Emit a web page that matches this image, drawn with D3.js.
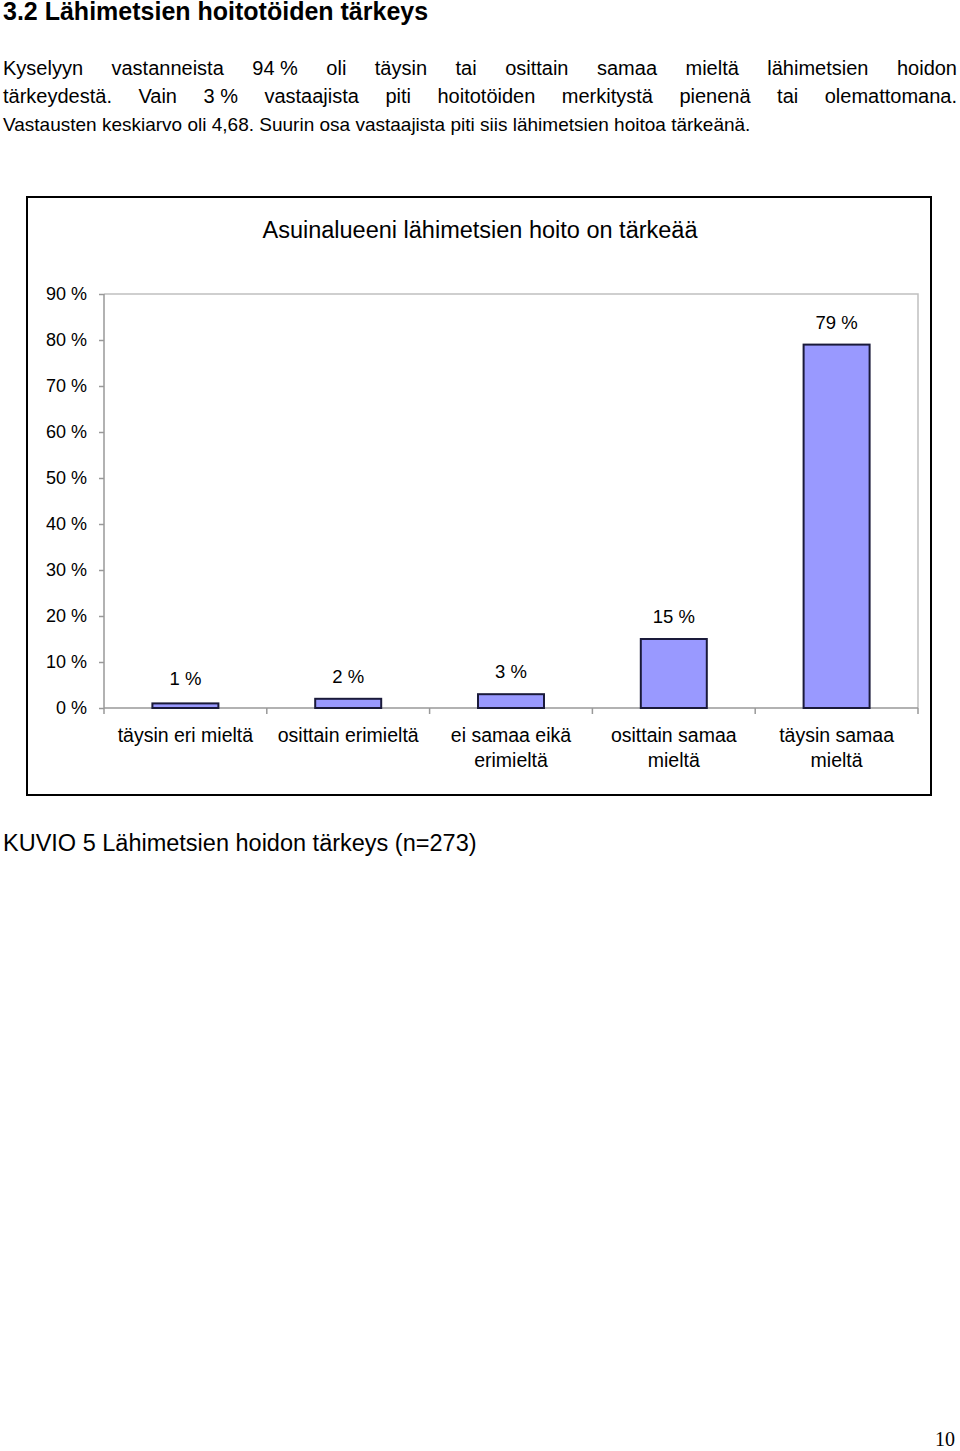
<!DOCTYPE html>
<html><head><meta charset="utf-8">
<script src="https://cdn.jsdelivr.net/npm/d3@7"></script>
<style>body{margin:0;background:#fff}</style>
</head><body>
<svg id="c" width="960" height="1451"></svg>
<script>
const categories = [["täysin eri mieltä"],["osittain erimieltä"],["ei samaa eikä","erimieltä"],["osittain samaa","mieltä"],["täysin samaa","mieltä"]];
const values = [1,2,3,15,79];
const valueLabels = ["1 %","2 %","3 %","15 %","79 %"];
const yTicks = [0,10,20,30,40,50,60,70,80,90];
const heading = "3.2 Lähimetsien hoitotöiden tärkeys";
const paragraph = [
 ["Kyselyyn","vastanneista","94 %","oli","täysin","tai","osittain","samaa","mieltä","lähimetsien","hoidon"],
 ["tärkeydestä.","Vain","3 %","vastaajista","piti","hoitotöiden","merkitystä","pienenä","tai","olemattomana."],
 ["Vastausten keskiarvo oli 4,68. Suurin osa vastaajista piti siis lähimetsien hoitoa tärkeänä."]];
const chartTitle = "Asuinalueeni lähimetsien hoito on tärkeää";
const caption = "KUVIO 5 Lähimetsien hoidon tärkeys (n=273)";

const svg = d3.select("#c");
const F = "Liberation Sans, Arial, sans-serif";
svg.append("text").attr("x",3).attr("y",20).attr("font-family",F).attr("font-weight","bold").attr("font-size",25).text(heading);
const lineY=[75,103,131];
paragraph.forEach((words,i)=>{
  if(words.length===1){svg.append("text").attr("x",3).attr("y",lineY[i]).attr("font-family",F).attr("font-size",19).text(words[0]);return;}
  const g=svg.append("g");
  const ts=words.map(w=>g.append("text").attr("y",lineY[i]).attr("font-family",F).attr("font-size",20).text(w));
  const widths=ts.map(t=>t.node().getComputedTextLength());
  const total=d3.sum(widths), gap=(957-3-total)/(words.length-1);
  let x=3; ts.forEach((t,j)=>{t.attr("x",x); x+=widths[j]+gap;});
});
svg.append("rect").attr("x",27).attr("y",197).attr("width",904).attr("height",598).attr("fill","none").attr("stroke","#000").attr("stroke-width",2);
svg.append("text").attr("x",480).attr("y",238).attr("text-anchor","middle").attr("font-family",F).attr("font-size",23.5).text(chartTitle);

const x0=104,x1=918,yb=708,yt=294;
const y=d3.scaleLinear().domain([0,90]).range([yb,yt]);
const x=d3.scaleBand().domain(d3.range(values.length)).range([x0,x1]);
svg.append("path").attr("d",`M${x0},${yt}H${x1}V${yb}`).attr("fill","none").attr("stroke","#c0c0c0").attr("stroke-width",1.5);
const ya=svg.append("g").attr("transform",`translate(${x0},0)`).call(d3.axisLeft(y).tickValues(yTicks).tickSize(5).tickPadding(12).tickFormat(d=>d+" %"));
ya.selectAll("path,line").attr("stroke","#999").attr("stroke-width",1.5);
ya.selectAll("text").attr("font-family",F).attr("font-size",18).attr("fill","#000");
ya.select(".domain").attr("d",`M0,${yt}V${yb}`);
const xa=svg.append("g");
xa.append("line").attr("x1",x0).attr("x2",x1).attr("y1",yb).attr("y2",yb).attr("stroke","#999").attr("stroke-width",1.5);
d3.range(values.length+1).forEach(i=>{const xx=x0+i*x.step();xa.append("line").attr("x1",xx).attr("x2",xx).attr("y1",yb).attr("y2",yb+6).attr("stroke","#999").attr("stroke-width",1.5);});
const bw=66;
svg.selectAll(".bar").data(values).enter().append("rect")
 .attr("x",(d,i)=>x(i)+x.bandwidth()/2-bw/2).attr("y",d=>y(d)).attr("width",bw).attr("height",d=>yb-y(d))
 .attr("fill","#9999FF").attr("stroke","#1a1a3a").attr("stroke-width",2);
svg.selectAll(".vl").data(values).enter().append("text")
 .attr("x",(d,i)=>x(i)+x.bandwidth()/2).attr("y",d=>Math.min(y(d)-16,yb-23)).attr("text-anchor","middle")
 .attr("font-family",F).attr("font-size",18.5).text((d,i)=>valueLabels[i]);
categories.forEach((lines,i)=>{lines.forEach((l,j)=>{
 svg.append("text").attr("x",x(i)+x.bandwidth()/2).attr("y",742+j*25).attr("text-anchor","middle").attr("font-family",F).attr("font-size",19.5).text(l);});});
svg.append("text").attr("x",3).attr("y",851).attr("font-family",F).attr("font-size",23.5).text(caption);
svg.append("text").attr("x",955).attr("y",1446).attr("text-anchor","end").attr("font-family","Liberation Serif, serif").attr("font-size",20).text("10");
</script>
</body></html>
